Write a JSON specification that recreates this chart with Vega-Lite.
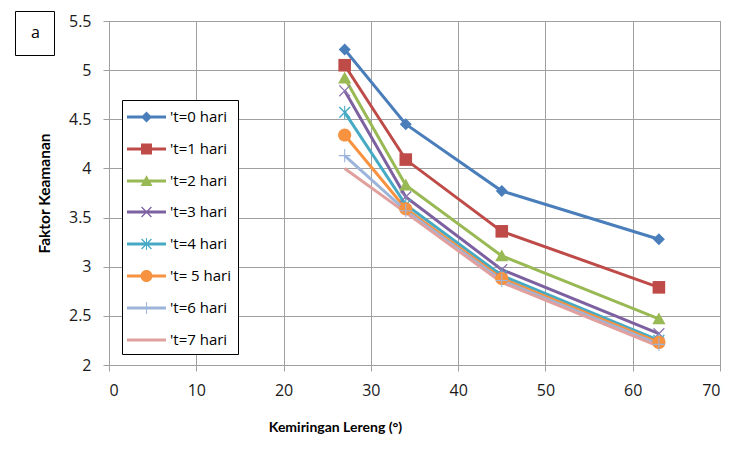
{
  "$schema": "https://vega.github.io/schema/vega-lite/v6.json",
  "autosize": "none",
  "width": 611,
  "height": 344,
  "padding": {"left": 109, "top": 21, "right": 12, "bottom": 89},
  "background": "white",
  "config": {
    "font": "Open Sans",
    "view": {"stroke": "#a0a0a0"},
    "axis": {
      "grid": true,
      "gridColor": "#a0a0a0",
      "gridOpacity": 1,
      "domainColor": "#a0a0a0",
      "tickColor": "#a0a0a0",
      "tickSize": 6,
      "labelFont": "Open Sans",
      "labelFontSize": 16,
      "labelColor": "#1a1a1a",
      "titleFont": "Lato",
      "titleFontWeight": "bold",
      "titleColor": "black"
    },
    "legend": {
      "labelFont": "Open Sans",
      "labelFontSize": 15,
      "labelColor": "black"
    }
  },
  "data": {
    "values": [
      {"slope": 27, "fk": 5.21, "series": "'t=0 hari"},
      {"slope": 34, "fk": 4.45, "series": "'t=0 hari"},
      {"slope": 45, "fk": 3.77, "series": "'t=0 hari"},
      {"slope": 63, "fk": 3.28, "series": "'t=0 hari"},
      {"slope": 27, "fk": 5.05, "series": "'t=1 hari"},
      {"slope": 34, "fk": 4.09, "series": "'t=1 hari"},
      {"slope": 45, "fk": 3.36, "series": "'t=1 hari"},
      {"slope": 63, "fk": 2.79, "series": "'t=1 hari"},
      {"slope": 27, "fk": 4.92, "series": "'t=2 hari"},
      {"slope": 34, "fk": 3.83, "series": "'t=2 hari"},
      {"slope": 45, "fk": 3.11, "series": "'t=2 hari"},
      {"slope": 63, "fk": 2.47, "series": "'t=2 hari"},
      {"slope": 27, "fk": 4.79, "series": "'t=3 hari"},
      {"slope": 34, "fk": 3.71, "series": "'t=3 hari"},
      {"slope": 45, "fk": 2.97, "series": "'t=3 hari"},
      {"slope": 63, "fk": 2.32, "series": "'t=3 hari"},
      {"slope": 27, "fk": 4.57, "series": "'t=4 hari"},
      {"slope": 34, "fk": 3.63, "series": "'t=4 hari"},
      {"slope": 45, "fk": 2.91, "series": "'t=4 hari"},
      {"slope": 63, "fk": 2.25, "series": "'t=4 hari"},
      {"slope": 27, "fk": 4.34, "series": "'t= 5 hari"},
      {"slope": 34, "fk": 3.59, "series": "'t= 5 hari"},
      {"slope": 45, "fk": 2.88, "series": "'t= 5 hari"},
      {"slope": 63, "fk": 2.23, "series": "'t= 5 hari"},
      {"slope": 27, "fk": 4.13, "series": "'t=6 hari"},
      {"slope": 34, "fk": 3.57, "series": "'t=6 hari"},
      {"slope": 45, "fk": 2.86, "series": "'t=6 hari"},
      {"slope": 63, "fk": 2.21, "series": "'t=6 hari"},
      {"slope": 27, "fk": 4.0, "series": "'t=7 hari"},
      {"slope": 34, "fk": 3.55, "series": "'t=7 hari"},
      {"slope": 45, "fk": 2.84, "series": "'t=7 hari"},
      {"slope": 63, "fk": 2.19, "series": "'t=7 hari"}
    ]
  },
  "encoding": {
    "x": {
      "field": "slope", "type": "quantitative",
      "scale": {"domain": [0, 70], "nice": false},
      "axis": {"values": [0, 10, 20, 30, 40, 50, 60, 70], "title": "Kemiringan Lereng (°)", "titleFontSize": 14, "titleX": 226, "labelPadding": 11, "titlePadding": 22}
    },
    "y": {
      "field": "fk", "type": "quantitative",
      "scale": {"domain": [2, 5.5], "nice": false, "zero": false},
      "axis": {"values": [2, 2.5, 3, 3.5, 4, 4.5, 5, 5.5], "format": "~g", "title": "Faktor Keamanan", "titleFontSize": 15.5, "labelPadding": 12, "titlePadding": 16}
    }
  },
  "layer": [
    {
      "mark": {"type": "line", "strokeWidth": 3},
      "encoding": {
        "color": {
          "field": "series", "type": "nominal", "legend": null,
          "scale": {
            "domain": ["'t=0 hari", "'t=1 hari", "'t=2 hari", "'t=3 hari", "'t=4 hari", "'t= 5 hari", "'t=6 hari", "'t=7 hari"],
            "range": ["#4A7EBB", "#BE4B48", "#98B954", "#7D60A0", "#46AAC5", "#F69240", "#9DB5DA", "#E0A09E"]
          }
        }
      }
    },
    {
      "transform": [{"filter": "datum.series != \"'t=7 hari\""}],
      "mark": {"type": "point", "filled": true, "opacity": 1, "size": 144},
      "encoding": {
        "color": {
          "field": "series", "type": "nominal", "legend": null,
          "scale": {
            "domain": ["'t=0 hari", "'t=1 hari", "'t=2 hari", "'t=3 hari", "'t=4 hari", "'t= 5 hari", "'t=6 hari"],
            "range": ["#4A7EBB", "#BE4B48", "#98B954", "#8C78B0", "#46AAC5", "#F69240", "#9DB5DA"]
          }
        },
        "shape": {
          "field": "series", "type": "nominal", "legend": null,
          "scale": {
            "domain": ["'t=0 hari", "'t=1 hari", "'t=2 hari", "'t=3 hari", "'t=4 hari", "'t= 5 hari", "'t=6 hari"],
            "range": [
              "M0,-1L1,0L0,1L-1,0Z",
              "M-1.05,-1.05L1.05,-1.05L1.05,1.05L-1.05,1.05Z",
              "M0,-1.05L1.1,0.9L-1.1,0.9Z",
              "M-0.82,-0.98L0.98,0.82L0.82,0.98L-0.98,-0.82ZM-0.98,0.82L0.82,-0.98L0.98,-0.82L-0.82,0.98Z",
              "M-0.82,-0.98L0.98,0.82L0.82,0.98L-0.98,-0.82ZM-0.98,0.82L0.82,-0.98L0.98,-0.82L-0.82,0.98ZM-0.09,-1.1L0.09,-1.1L0.09,1.1L-0.09,1.1Z",
              "M-1.1,0A1.1,1.1 0 1,1 1.1,0A1.1,1.1 0 1,1 -1.1,0Z",
              "M-1,-0.09L1,-0.09L1,0.09L-1,0.09ZM-0.09,-1.1L0.09,-1.1L0.09,1.1L-0.09,1.1Z"
            ]
          }
        }
      }
    },
    {
      "transform": [{"filter": "false"}],
      "mark": {"type": "point", "filled": true, "opacity": 1, "size": 400},
      "encoding": {
        "color": {
          "field": "series", "type": "nominal",
          "scale": {
            "domain": ["'t=0 hari", "'t=1 hari", "'t=2 hari", "'t=3 hari", "'t=4 hari", "'t= 5 hari", "'t=6 hari", "'t=7 hari"],
            "range": ["#4A7EBB", "#BE4B48", "#98B954", "#7D60A0", "#46AAC5", "#F69240", "#9DB5DA", "#E0A09E"]
          },
          "legend": {
            "title": null, "orient": "none", "legendX": 13, "legendY": 79,
            "fillColor": "white", "strokeColor": "black", "padding": 6,
            "symbolSize": 400, "rowPadding": 12, "labelOffset": 20, "symbolOpacity": 1
          }
        },
        "shape": {
          "field": "series", "type": "nominal",
          "scale": {
            "domain": ["'t=0 hari", "'t=1 hari", "'t=2 hari", "'t=3 hari", "'t=4 hari", "'t= 5 hari", "'t=6 hari", "'t=7 hari"],
            "range": [
              "M-1.2,-0.14L2.7,-0.14L2.7,0.14L-1.2,0.14ZM0.75,-0.55L1.3,0L0.75,0.55L0.2,0Z",
              "M-1.2,-0.14L2.7,-0.14L2.7,0.14L-1.2,0.14ZM0.2,-0.55L1.3,-0.55L1.3,0.55L0.2,0.55Z",
              "M-1.2,-0.14L2.7,-0.14L2.7,0.14L-1.2,0.14ZM0.75,-0.58L1.35,0.5L0.15,0.5Z",
              "M-1.2,-0.14L2.7,-0.14L2.7,0.14L-1.2,0.14ZM0.3,-0.54L1.29,0.45L1.2,0.54L0.21,-0.45ZM0.21,0.45L1.2,-0.54L1.29,-0.45L0.3,0.54Z",
              "M-1.2,-0.14L2.7,-0.14L2.7,0.14L-1.2,0.14ZM0.3,-0.54L1.29,0.45L1.2,0.54L0.21,-0.45ZM0.21,0.45L1.2,-0.54L1.29,-0.45L0.3,0.54ZM0.7,-0.6L0.8,-0.6L0.8,0.6L0.7,0.6Z",
              "M-1.2,-0.14L2.7,-0.14L2.7,0.14L-1.2,0.14ZM0.15,0A0.6,0.6 0 1,1 1.35,0A0.6,0.6 0 1,1 0.15,0Z",
              "M-1.2,-0.14L2.7,-0.14L2.7,0.14L-1.2,0.14ZM0.7,-0.6L0.8,-0.6L0.8,0.6L0.7,0.6Z",
              "M-1.2,-0.14L2.7,-0.14L2.7,0.14L-1.2,0.14Z"
            ]
          }
        }
      }
    },
    {
      "transform": [{"filter": "false"}],
      "mark": {"type": "point", "filled": true, "opacity": 1, "size": 0},
      "encoding": {
        "shape": {
          "field": "panel", "type": "nominal",
          "scale": {"domain": ["a"], "range": ["circle"]},
          "legend": {
            "title": null, "orient": "none", "legendX": -94, "legendY": -10,
            "fillColor": "white", "strokeColor": "black", "padding": 14,
            "symbolSize": 0, "symbolOpacity": 0, "labelOffset": -14,
            "labelFontSize": 16, "labelFont": "Open Sans"
          }
        }
      }
    }
  ],
  "resolve": {"scale": {"color": "independent", "shape": "independent"}}
}
